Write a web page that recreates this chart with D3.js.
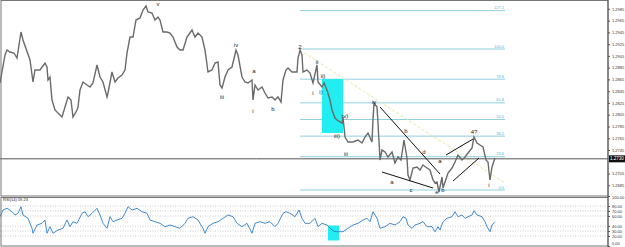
<!DOCTYPE html>
<html>
<head>
<meta charset="utf-8">
<script src="https://cdn.jsdelivr.net/npm/d3@7"></script>
<style>
  body { margin: 0; background: #fff; }
  svg { display: block; font-family: Arial, "Liberation Sans", sans-serif; }
</style>
</head>
<body>
<div id="app"></div>
<script>
// bar number, close
var bars = [0,5,7,10,14,17,21,23,30,33,35,40,45,47,48,50,52,55,58,62,65,68,71,73,77,78,80,83,87,90,93,97,100,103,107,108,112,115,118,122,125,127,130,133,136,140,143,146,148,152,155,158,160,163,167,170,173,177,180,183,187,192,195,198,202,205,208,212,215,218,220,222,225,228,232,236,238,242,245,248,252,253,255,258,262,265,268,272,275,278,281,283,286,288,292,297,298,300,302,303,307,310,313,317,318,322,324,327,330,332,335,337,342,343,345,348,353,358,362,365,368,372,373,374,377,378,380,382,385,388,392,395,398,401,404,407,408,410,413,417,420,423,427,430,433,435,437,439,442,443,445,448,452,455,458,462,465,468,472,474,477,480,483,486,488,490,492,495];
var closes = [1.28589,1.29065,1.29150,1.29116,1.29099,1.29014,1.29456,1.29320,1.28980,1.28606,1.28810,1.28810,1.28929,1.28861,1.28640,1.28691,1.28300,1.28130,1.28079,1.28011,1.28181,1.28351,1.28300,1.28011,1.28130,1.28181,1.28470,1.28606,1.28555,1.28521,1.28589,1.28895,1.28691,1.28606,1.28351,1.28419,1.28776,1.28606,1.28674,1.28725,1.28810,1.29099,1.29371,1.29371,1.29660,1.29694,1.29830,1.29898,1.29796,1.29779,1.29660,1.29711,1.29660,1.29456,1.29456,1.29439,1.29371,1.29201,1.29150,1.29150,1.29371,1.29490,1.29371,1.29439,1.29371,1.29150,1.28776,1.28810,1.28929,1.28946,1.28555,1.28504,1.28691,1.28810,1.28861,1.29150,1.29065,1.28691,1.28606,1.28589,1.28640,1.28300,1.28555,1.28470,1.28521,1.28419,1.28334,1.28351,1.28300,1.28351,1.28266,1.28640,1.28810,1.28844,1.28776,1.28776,1.29014,1.29150,1.29065,1.28776,1.28810,1.28759,1.28589,1.28895,1.28606,1.28521,1.28589,1.28470,1.28300,1.28130,1.27994,1.27960,1.27909,1.28011,1.27671,1.27586,1.27586,1.27620,1.27569,1.27671,1.27739,1.27586,1.27960,1.28249,1.28181,1.27909,1.27280,1.27450,1.27416,1.27331,1.27416,1.27229,1.27331,1.27280,1.27620,1.27314,1.27025,1.26940,1.27144,1.27161,1.27110,1.27195,1.27144,1.27110,1.26940,1.26889,1.26906,1.26736,1.26991,1.26804,1.26906,1.27059,1.27144,1.27246,1.27365,1.27280,1.27331,1.27399,1.27484,1.27671,1.27569,1.27535,1.27501,1.27280,1.27246,1.26940,1.27161,1.27314];

var rsiBars = [0,3,7,12,15,18,21,23,28,32,33,37,42,45,47,50,53,58,63,67,70,73,77,82,85,88,92,97,100,103,107,110,113,117,122,125,128,132,137,142,147,150,155,160,165,170,175,180,185,188,193,198,203,205,208,213,218,223,228,233,237,242,247,252,255,260,265,270,275,278,283,286,290,295,299,302,305,310,315,318,322,327,332,335,340,343,348,353,358,363,367,370,373,377,380,385,390,395,400,403,406,408,412,415,420,423,427,432,435,438,440,443,447,452,455,458,462,465,468,472,474,477,482,485,487,490,492,495];
var rsi = [58.6,72,75.4,68.6,62,65.4,78.6,62,55.4,35.4,25.4,42,45.4,52,25.4,38.6,25.4,32,35.4,52,38.6,48.6,45.4,65.4,68.6,58.6,65.4,75.4,62,45.4,35.4,58.6,48.6,52,55.4,65.4,78.6,72,75.4,68.6,65.4,52,48.6,45.4,38.6,42,38.6,35.4,45.4,55.4,58.6,52,35.4,25.4,38.6,45.4,48.6,55.4,62,58.6,45.4,38.6,45.4,25.4,45.4,48.6,45.4,48.6,38.6,45.4,65.4,68.6,65.4,58.6,72,55.4,45.4,45.4,55.4,38.6,45.4,42,32,28.6,28.6,28.6,35.4,42,45.4,52,55.4,48.6,68.6,55.4,35.4,38.6,45.4,42,48.6,58.6,55.4,42,35.4,42,45.4,48.6,38.6,38.6,28.6,38.6,32,48.6,55.4,58.6,68.6,58.6,62,55.4,58.6,62,70.6,62,58.6,48.6,38.6,28.6,42,48.6];

var priceTicks = [1.2985,1.2965,1.2945,1.2925,1.2905,1.2885,1.2865,1.2845,1.2825,1.2805,1.2785,1.2765,1.2745,1.2705,1.2685];
var rsiTicks = [100,80,70,60,40,30,20,0];
var rsiGrid = [80,70,60,40,30,20];

var fibLevels = [0,23.6,38.2,50,61.8,78.6,100,127.2];
var fibLow = 1.2677, fibHigh = 1.29167;
var fibFrom = 300, fibTo = 505;

var lastPrice = 1.2730;

// trend lines: [bar1, price1, bar2, price2]
var trendLines = [
  [380,1.28181,440,1.27042],
  [382,1.27076,433,1.26804],
  [446,1.27365,473,1.27637],
  [453,1.26923,479,1.27314]
];
var channelLine = [300,1.29150,505,1.26889];

var zone = {from:322, to:343, top:1.28657, bottom:1.27739};
var rsiZone = {from:328, to:339, top:41, bottom:11};

var waveText = ['v','iv','a','iii','i','b','2','ii','i','ii)','i)','iv)','iii)','iii','iv','a','b','d','a','c','e','b','4?','i'];
var waveBar = [158,236,254,222,253,273,300,317,313,323,321,345,337,346,374,392,406,424,440,411,437,443,474,489];
var wavePrice = [1.29932,1.29235,1.28793,1.28351,1.28113,1.28147,1.29201,1.28946,1.28419,1.28708,1.28436,1.28028,1.27688,1.27382,1.28266,1.26906,1.27773,1.27416,1.27263,1.26770,1.26736,1.26770,1.27756,1.26855];

var W = 625, H = 247, plotR = 608;
var mainTop = 0, mainBot = 196, rsiTop = 196, rsiBot = 246;

var svg = d3.select('#app').append('svg').attr('width', W).attr('height', H);

var x = d3.scaleLinear().domain([0, 608]).range([0, plotR]);
var y = d3.scaleLinear().domain([1.26668, 1.30000]).range([mainBot, mainTop]);
var yr = d3.scaleLinear().domain([0, 100]).range([rsiBot, rsiTop]);

// fib levels
var fibY = function(l) { return fibLow + (fibHigh - fibLow) * l / 100; };
var fib = svg.append('g');
fib.selectAll('line').data(fibLevels).enter().append('line')
  .attr('x1', x(fibFrom)).attr('x2', x(fibTo))
  .attr('y1', function(d) { return y(fibY(d)); })
  .attr('y2', function(d) { return y(fibY(d)); })
  .attr('stroke', '#8fd0e0').attr('stroke-width', 1);
fib.selectAll('text').data(fibLevels).enter().append('text')
  .attr('x', x(fibTo) - 1).attr('y', function(d) { return y(fibY(d)) - 1.5; })
  .attr('text-anchor', 'end').attr('font-size', 4).attr('fill', '#5fb4cc')
  .text(function(d) { return d3.format('.1f')(d); });

// cyan zone
svg.append('rect')
  .attr('x', x(zone.from)).attr('width', x(zone.to) - x(zone.from))
  .attr('y', y(zone.top)).attr('height', y(zone.bottom) - y(zone.top))
  .attr('fill', '#22eef2');

// channel line (yellow dashed)
svg.append('line')
  .attr('x1', x(channelLine[0])).attr('y1', y(channelLine[1]))
  .attr('x2', x(channelLine[2])).attr('y2', y(channelLine[3]))
  .attr('stroke', '#efe79a').attr('stroke-width', 1).attr('stroke-dasharray', '3,2');

// last price line
svg.append('line')
  .attr('x1', 0).attr('x2', plotR).attr('y1', y(lastPrice)).attr('y2', y(lastPrice))
  .attr('stroke', '#555').attr('stroke-width', 1);

// price
var line = d3.line().x(function(d) { return x(d[0]); }).y(function(d) { return y(d[1]); });
svg.append('path').datum(d3.zip(bars, closes)).attr('d', line)
  .attr('fill', 'none').attr('stroke', '#6a6a6a').attr('stroke-width', 1.4);

// trend lines
svg.append('g').selectAll('line').data(trendLines).enter().append('line')
  .attr('x1', function(d) { return x(d[0]); }).attr('y1', function(d) { return y(d[1]); })
  .attr('x2', function(d) { return x(d[2]); }).attr('y2', function(d) { return y(d[3]); })
  .attr('stroke', '#111').attr('stroke-width', 1);

// wave labels
svg.append('g').selectAll('text').data(waveText).enter().append('text')
  .attr('x', function(d, i) { return x(waveBar[i]); })
  .attr('y', function(d, i) { return y(wavePrice[i]) + 2; })
  .attr('text-anchor', 'middle').attr('font-size', 6).attr('fill', '#222')
  .text(function(d) { return d; });

// rsi panel
svg.append('g').selectAll('line').data(rsiGrid).enter().append('line')
  .attr('x1', 0).attr('x2', plotR)
  .attr('y1', function(d) { return yr(d); }).attr('y2', function(d) { return yr(d); })
  .attr('stroke', '#aaa').attr('stroke-width', 0.6).attr('stroke-dasharray', '1,1.5');

svg.append('rect')
  .attr('x', x(rsiZone.from)).attr('width', x(rsiZone.to) - x(rsiZone.from))
  .attr('y', yr(rsiZone.top)).attr('height', yr(rsiZone.bottom) - yr(rsiZone.top))
  .attr('fill', '#22eef2');

var rline = d3.line().x(function(d) { return x(d[0]); }).y(function(d) { return yr(d[1]); });
svg.append('path').datum(d3.zip(rsiBars, rsi)).attr('d', rline)
  .attr('fill', 'none').attr('stroke', '#2f7fc8').attr('stroke-width', 0.9);

svg.append('text').attr('x', 3).attr('y', rsiTop + 5).attr('font-size', 4).attr('fill', '#222')
  .text('RSI(14) 59.23');

// frames
svg.append('rect').attr('x', 1).attr('y', 0.5).attr('width', plotR - 1).attr('height', mainBot - 0.5)
  .attr('fill', 'none').attr('stroke', '#777').attr('stroke-width', 1);
svg.append('rect').attr('x', 1).attr('y', rsiTop + 1.5).attr('width', plotR - 1).attr('height', rsiBot - rsiTop - 1.5)
  .attr('fill', 'none').attr('stroke', '#777').attr('stroke-width', 1);

// axes
var ya = svg.append('g').attr('transform', 'translate(' + plotR + ',0)')
  .call(d3.axisRight(y).tickValues(priceTicks).tickSize(2).tickPadding(2).tickFormat(d3.format('.4f')));
var ra = svg.append('g').attr('transform', 'translate(' + plotR + ',0)')
  .call(d3.axisRight(yr).tickValues(rsiTicks).tickSize(2).tickPadding(2).tickFormat(d3.format('.2f')));
[ya, ra].forEach(function(a) {
  a.select('.domain').remove();
  a.selectAll('line').attr('stroke', '#555');
  a.selectAll('text').attr('font-size', 4).attr('fill', '#333');
});
ra.selectAll('text').filter(function(d) { return d === 0; }).attr('dy', '-0.4em');
ra.selectAll('text').filter(function(d) { return d === 100; }).attr('dy', '0.6em');
svg.append('line').attr('x1', plotR).attr('x2', plotR).attr('y1', 0).attr('y2', H)
  .attr('stroke', '#555').attr('stroke-width', 1);

// last price tag
svg.append('rect').attr('x', plotR + 1).attr('y', y(lastPrice) - 3.5).attr('width', 16).attr('height', 7)
  .attr('fill', '#111');
svg.append('text').attr('x', plotR + 2).attr('y', y(lastPrice) + 1.5).attr('font-size', 4.5)
  .attr('fill', '#fff').text(d3.format('.4f')(lastPrice));
</script>
</body>
</html>
